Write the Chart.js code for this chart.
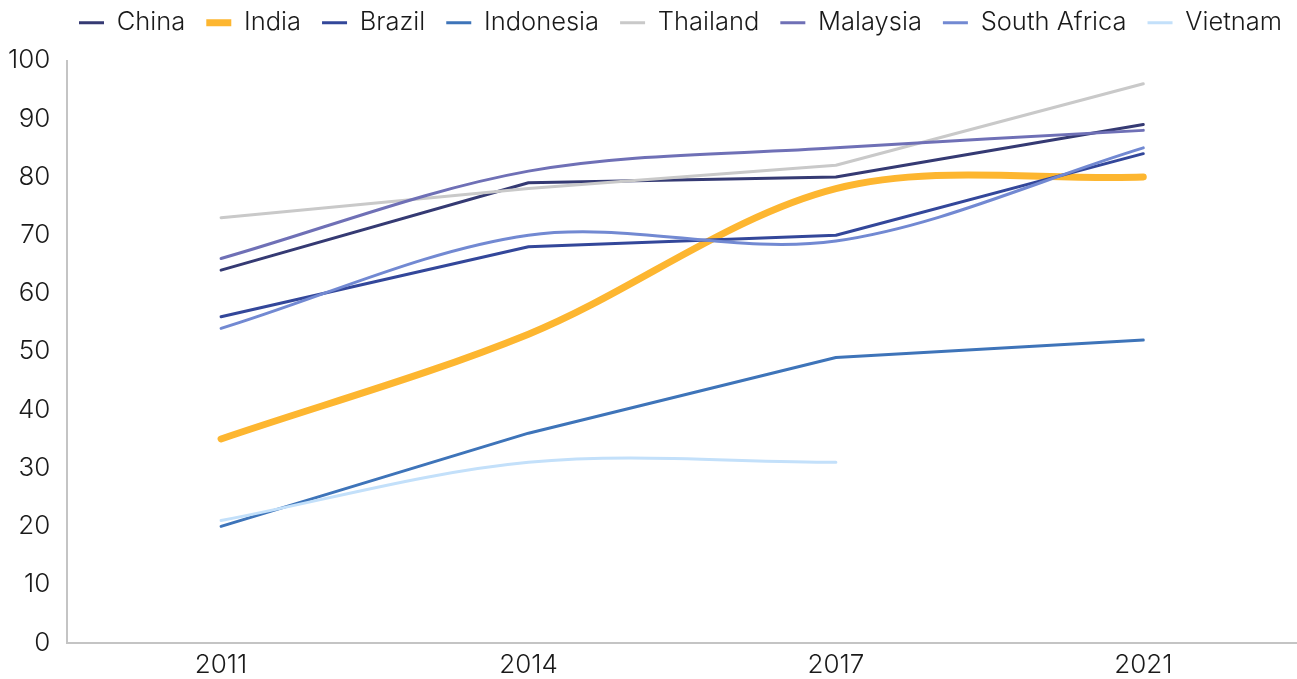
<!DOCTYPE html>
<html>
<head>
<meta charset="utf-8">
<script src="https://cdn.jsdelivr.net/npm/chart.js@4/dist/chart.umd.min.js"></script>
<style>
  html, body { margin: 0; padding: 0; background: #fff; }
  #wrap { width: 1297px; height: 679px; position: relative; }
</style>
</head>
<body>
<div id="wrap"><canvas id="c"></canvas></div>
<script>
// categories
const years = ['2011', '2014', '2017', '2021'];

// series values
const china       = [64, 79, 80, 89];
const india       = [35, 53, 78, 80];
const brazil      = [56, 68, 70, 84];
const indonesia   = [20, 36, 49, 52];
const thailand    = [73, 78, 82, 96];
const malaysia    = [66, 81, 85, 88];
const southAfrica = [54, 70, 69, 85];
const vietnam     = [21, 31, 31, null];

const yTicks = [0, 10, 20, 30, 40, 50, 60, 70, 80, 90, 100];

const FONT = 'Inter';

function series(label, data, color, width, smooth) {
  return {
    label: label,
    data: data,
    borderColor: color,
    backgroundColor: color,
    borderWidth: width,
    borderCapStyle: 'round',
    borderJoinStyle: 'round',
    tension: smooth ? 0.33 : 0,
    pointRadius: 0,
    pointHoverRadius: 0,
    fill: false,
    spanGaps: false
  };
}

const datasets = [
  series('China', china, '#353A73', 3, false),
  series('India', india, '#FDB630', 7, true),
  series('Brazil', brazil, '#33479A', 3, false),
  series('Indonesia', indonesia, '#3E74B9', 3, false),
  series('Thailand', thailand, '#C9C9C9', 3, false),
  series('Malaysia', malaysia, '#6F70B6', 3, true),
  series('South Africa', southAfrica, '#7289D2', 3, true),
  series('Vietnam', vietnam, '#C3E0FA', 3, true)
];
// later series on top, like the original
datasets.forEach((d, i) => { d.order = -i; });

// keep the legend on one row, give it more room below, start it at x≈78
const legendSpace = {
  id: 'legendSpace',
  beforeInit(chart) {
    const fit = chart.legend.fit;
    chart.legend.fit = function () {
      const mw = this.maxWidth;
      this.maxWidth = mw + 300;
      fit.call(this);
      this.maxWidth = mw;
      this.width = Math.min(this.width, mw);
      this.height += 15;
    };
  },
  afterLayout(chart) {
    const lg = chart.legend;
    lg.left = 79 - lg.options.labels.padding;
    lg.right = 1500;
  }
};

new Chart(document.getElementById('c'), {
  type: 'line',
  data: { labels: years, datasets: datasets },
  plugins: [legendSpace],
  options: {
    responsive: true,
    maintainAspectRatio: false,
    animation: false,
    layout: { padding: { left: -9, right: 0, top: -11, bottom: -9 } },
    plugins: {
      tooltip: { enabled: false },
      legend: {
        position: 'top',
        align: 'start',
        labels: {
          usePointStyle: true,
          pointStyle: 'line',
          pointStyleWidth: 25,
          boxHeight: 8,
          padding: 21,
          color: '#1a1a1a',
          font: { family: FONT, size: 25.5, weight: 300 },
          sort: (a, b) => a.datasetIndex - b.datasetIndex
        }
      }
    },
    scales: {
      x: {
        offset: true,
        grid: { display: false, drawTicks: false },
        border: { display: true, color: '#C4C4C4', width: 2 },
        ticks: {
          color: '#1a1a1a',
          padding: 7,
          font: { family: FONT, size: 26, weight: 300 }
        }
      },
      y: {
        min: 0,
        max: 100,
        afterBuildTicks: (axis) => { axis.ticks = yTicks.map(v => ({ value: v })); },
        grid: { display: false, drawTicks: false },
        border: { display: true, color: '#C4C4C4', width: 2 },
        ticks: {
          color: '#1a1a1a',
          padding: 17,
          font: { family: FONT, size: 26, weight: 300 }
        }
      }
    }
  }
});
</script>
</body>
</html>
